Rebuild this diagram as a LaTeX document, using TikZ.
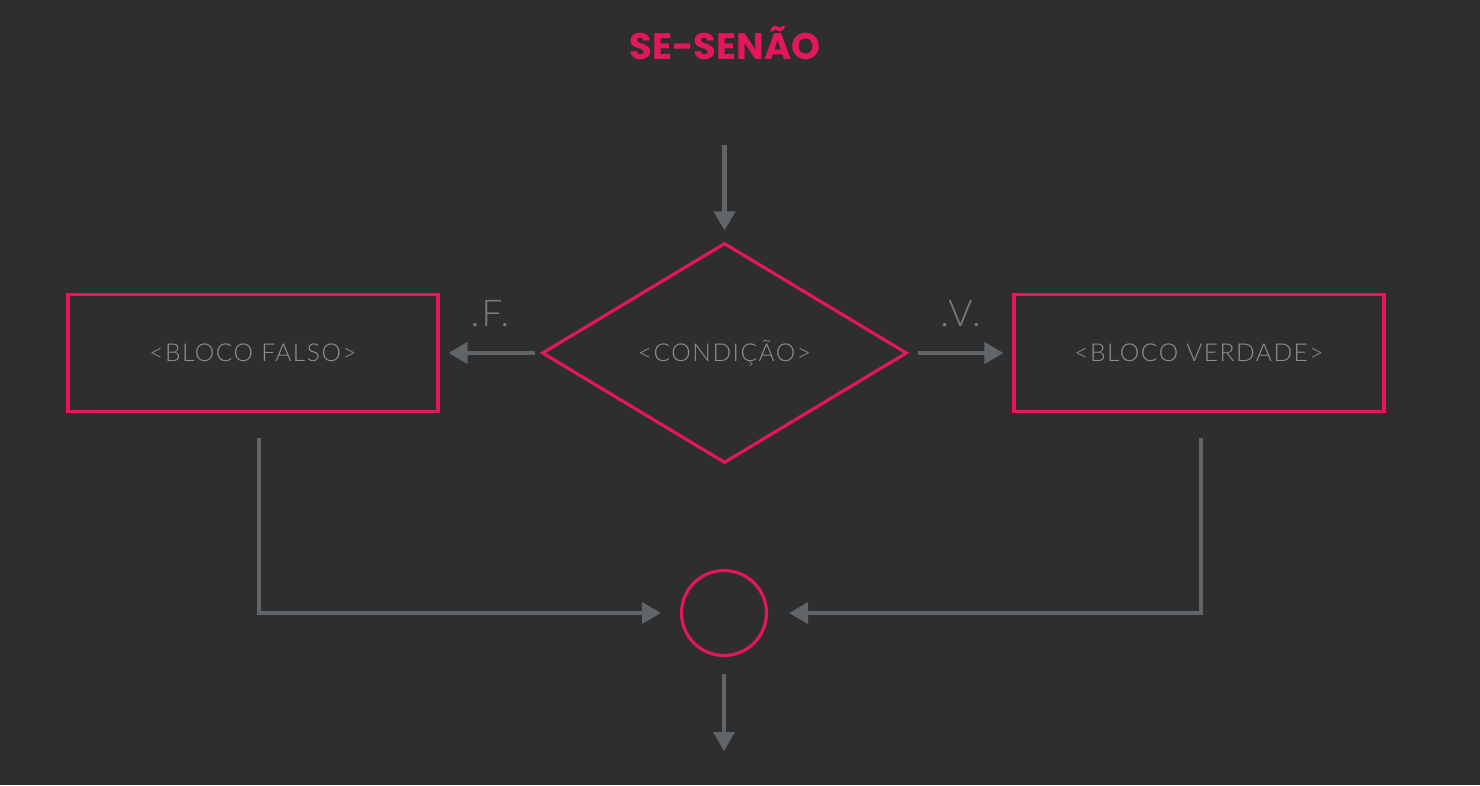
\documentclass[tikz,border=0pt]{standalone}
\usepackage{fontspec}
\setmainfont{Lato}
\newfontfamily\titlefont{Poppins}
\newfontfamily\corpo{Lato}[UprightFont={* Light},LetterSpace=6]
\usetikzlibrary{arrows.meta,positioning,shapes.geometric}
\definecolor{fundo}{HTML}{2E2E2E}
\definecolor{rosa}{HTML}{E2185B}
\definecolor{cinza}{HTML}{5F6569}
\definecolor{texto}{HTML}{8E8E8E}

\begin{document}
\begin{tikzpicture}[x=0.02cm,y=-0.02cm,>={Triangle[length=0.38cm,width=0.42cm]},
  bloco/.style={draw=rosa,line width=1.8pt,minimum width=7.4cm,minimum height=2.34cm,
    text=texto,font=\corpo\fontsize{14}{16}\selectfont},
  seta/.style={->,color=cinza,line width=2.3pt},
  rot/.style={text=cinza!85!white,font=\corpo\fontsize{21}{24}\selectfont,anchor=south,yshift=0.36cm}]
  \fill[fundo] (0,0) rectangle (1480,785);
  \node (titulo) at (725,43) {\titlefont\bfseries\fontsize{21}{24}\selectfont\color{rosa}SE-SENÃO};
  \node (cond) [diamond,draw=rosa,line width=1.8pt,minimum width=7.3cm,minimum height=4.4cm,
    inner sep=0pt,text=texto,font=\corpo\fontsize{14}{16}\selectfont] at (724.5,353) {\raisebox{-0.08cm}{<CONDIÇÃO>}};
  \node (falso) [bloco] at (253,353) {<BLOCO FALSO>};
  \node (verdade) [bloco] at (1199,353) {<BLOCO VERDADE>};
  \node (junta) [circle,draw=rosa,line width=1.8pt,minimum size=1.7cm] at (724,613) {};
  \coordinate (entrada) at (724.5,145);
  \coordinate (saida) at (724,751);
  % ligacoes
  \path[seta] (entrada) edge[shorten >=0.22cm] (cond.north)
    (cond.west) edge[shorten <=0.1cm,shorten >=0.18cm] node[rot] {.F.} (falso.east)
    (cond.east) edge[shorten <=0.18cm,shorten >=0.18cm] node[rot] {.V.} (verdade.west)
    (junta.south) edge[shorten <=0.34cm] (saida);
  \draw[seta,shorten <=0.5cm,shorten >=0.38cm] ([xshift=0.12cm]falso.south) |- (junta.west);
  \draw[seta,shorten <=0.5cm,shorten >=0.42cm] ([xshift=0.04cm]verdade.south) |- (junta.east);
\end{tikzpicture}
\end{document}
